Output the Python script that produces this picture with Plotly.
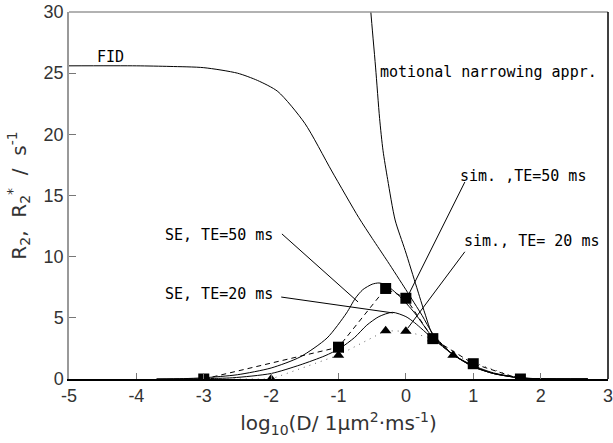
import plotly.graph_objects as go

# ---- data ----
fid_x = [-5, -4, -3.5, -3, -2.5, -2.2, -1.9, -1.5, -1.1, -0.7, -0.5, -0.27, 0.0, 0.24, 0.4, 0.7, 1.0, 1.3, 1.7, 2.0, 2.7]
fid_y = [25.6, 25.6, 25.55, 25.45, 25.0, 24.4, 23.5, 20.9, 17.0, 13.2, 11.5, 9.6, 7.3, 5.2, 3.7, 2.0, 1.1, 0.5, 0.1, 0.02, 0.0]

mn_x = [-0.55, -0.52, -0.45, -0.39, -0.34, -0.27, -0.16, -0.01, 0.16, 0.28, 0.4, 0.7, 1.0, 1.3, 1.7, 2.0, 2.7]
mn_y = [32.5, 30.0, 25.5, 21.3, 18.7, 16.3, 13.0, 10.5, 7.5, 5.4, 3.6, 2.0, 1.0, 0.45, 0.1, 0.02, 0.0]

se50_x = [-3.7, -3.3, -3.0, -2.5, -2.0, -1.57, -1.17, -0.88, -0.75, -0.64, -0.5, -0.4, -0.3, -0.1, 0.13, 0.4, 0.7, 1.0, 1.3, 1.7, 2.0, 2.7]
se50_y = [0.0, 0.03, 0.1, 0.35, 0.9, 1.8, 3.35, 5.4, 6.6, 7.3, 7.75, 7.85, 7.7, 6.8, 5.4, 3.4, 2.0, 1.05, 0.45, 0.08, 0.01, 0.0]

se20_x = [-3.7, -3.0, -2.57, -2.0, -1.57, -1.2, -0.98, -0.76, -0.58, -0.4, -0.2, 0.0, 0.13, 0.4, 0.7, 1.0, 1.3, 1.7, 2.0, 2.7]
se20_y = [0.0, 0.03, 0.1, 0.45, 1.15, 1.9, 2.5, 3.4, 4.4, 5.1, 5.45, 5.1, 4.6, 3.3, 2.0, 1.0, 0.45, 0.08, 0.01, 0.0]

sim50_x = [-3, -1, -0.3, 0, 0.4, 1, 1.7]
sim50_y = [0.0, 2.6, 7.4, 6.6, 3.3, 1.25, 0.0]

sim20_x = [-3, -2, -1, -0.3, 0, 0.4, 0.7, 1.7]
sim20_y = [0.0, 0.0, 1.95, 3.95, 3.9, 3.3, 1.95, 0.0]

x_ticks = [-5, -4, -3, -2, -1, 0, 1, 2, 3]
x_ticktext = ["-5", "-4", "-3", "-2", "-1", "0", "1", "2", "3"]
y_ticks = [0, 5, 10, 15, 20, 25, 30]

# labels: text, text anchor (x, y), pointer start (x, y), pointer end (x, y)
label_texts = ["FID", "motional narrowing appr.", "sim. ,TE=50 ms", "sim., TE= 20 ms", "SE, TE=50 ms", "SE, TE=20 ms"]
label_x = [-4.61, -0.42, 0.77, 0.83, -3.61, -3.61]
label_y = [26.3, 25.1, 16.6, 11.3, 11.75, 6.95]
ptr_x0 = [None, None, 0.875, 0.875, -1.84, -1.85]
ptr_y0 = [None, None, 16.1, 10.4, 11.86, 6.7]
ptr_x1 = [None, None, 0.015, 0.03, -0.71, -0.19]
ptr_y1 = [None, None, 6.62, 4.17, 6.3, 5.4]

fig = go.Figure()

def curve(x, y):
    fig.add_trace(go.Scatter(x=x, y=y, mode="lines",
                             line=dict(color="black", width=1, shape="spline", smoothing=0.7),
                             hoverinfo="skip", showlegend=False))

curve(fid_x, fid_y)
curve(mn_x, mn_y)
curve(se50_x, se50_y)
curve(se20_x, se20_y)

fig.add_trace(go.Scatter(x=sim20_x, y=sim20_y, mode="lines+markers",
                         line=dict(color="#666666", width=1, dash="1px,5px"),
                         marker=dict(symbol="triangle-up", size=10, color="black"),
                         showlegend=False))
fig.add_trace(go.Scatter(x=sim50_x, y=sim50_y, mode="lines+markers",
                         line=dict(color="black", width=1, dash="5px,4px"),
                         marker=dict(symbol="square", size=11, color="black"),
                         showlegend=False))

mono = dict(family="DejaVu Sans Mono", size=15, color="black")
for i, t in enumerate(label_texts):
    fig.add_annotation(x=label_x[i], y=label_y[i], text=t, showarrow=False,
                       xanchor="left", yanchor="middle", font=mono)
    if ptr_x0[i] is not None:
        fig.add_shape(type="line", xref="x", yref="y",
                      x0=ptr_x0[i], y0=ptr_y0[i], x1=ptr_x1[i], y1=ptr_y1[i],
                      line=dict(color="black", width=1))

# frame
fig.add_shape(type="line", xref="paper", yref="paper", x0=0, y0=1, x1=1, y1=1,
              line=dict(color="#999999", width=1.5))
fig.add_shape(type="line", xref="paper", yref="paper", x0=1, y0=0, x1=1, y1=1,
              line=dict(color="black", width=1.5))

tickfont = dict(family="Liberation Sans", size=18, color="#333333")
titlefont = dict(family="DejaVu Sans", size=20, color="#333333")
fig.update_layout(
    width=613, height=443,
    margin=dict(l=69, r=5, t=12, b=64),
    plot_bgcolor="white", paper_bgcolor="white",
    showlegend=False,
    xaxis=dict(range=[-5, 3], tickvals=x_ticks, ticktext=x_ticktext,
               ticks="inside", ticklen=6, tickcolor="#777777",
               showline=True, linecolor="black", linewidth=1.5,
               showgrid=False, zeroline=False, tickfont=tickfont, automargin=False,
               ticklabeloverflow="allow",
               title=dict(text="log<sub>10</sub>(D/ 1μm<sup>2</sup>·ms<sup>-1</sup>)",
                          font=titlefont, standoff=11)),
    yaxis=dict(range=[0, 30], tickvals=y_ticks,
               ticks="inside", ticklen=7, tickcolor="#777777",
               showline=True, linecolor="#999999", linewidth=1.5,
               showgrid=False, zeroline=False, tickfont=tickfont, automargin=False,
               ticklabeloverflow="allow",
               title=dict(text="R<sub>2</sub>,  R<sub>2</sub><sup>*</sup>  /  s<sup>-1</sup>",
                          font=titlefont, standoff=12)),
)

fig.write_html("out.html", config={"displayModeBar": False},
               post_script="document.body.style.margin='0px';")
